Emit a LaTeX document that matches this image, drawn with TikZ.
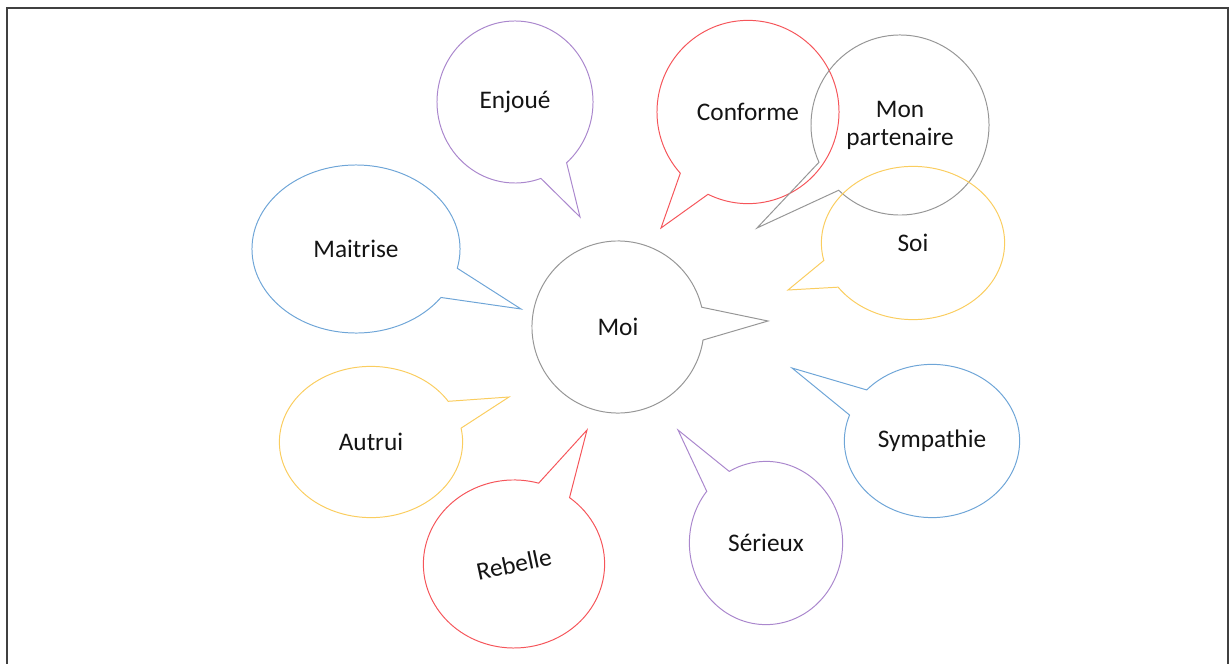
\documentclass[tikz,border=0pt]{standalone}
\usepackage{fontspec}
\setmainfont{Carlito}
\usepackage{xcolor}
\usetikzlibrary{shapes.callouts}

\definecolor{bPurple}{RGB}{170,135,205}
\definecolor{bRed}{RGB}{245,85,90}
\definecolor{bGrey}{RGB}{150,150,150}
\definecolor{bYellow}{RGB}{250,205,95}
\definecolor{bBlue}{RGB}{110,165,215}
\definecolor{bText}{RGB}{20,20,20}

\begin{document}
\begin{tikzpicture}[x=0.025cm, y=-0.025cm,
    bubble/.style={ellipse callout, draw, line width=0.7pt, inner sep=0pt,
        callout pointer arc=22, text=bText, align=center,
        font=\fontsize{18}{20}\selectfont}]
    \useasboundingbox (0,0) rectangle (1231,664);
    \draw[line width=1.4pt, draw=black!75] (7,664) -- (7,8) -- (1228,8) -- (1228,664);

    \node[bubble, draw=bPurple, minimum width=3.9cm, minimum height=4.05cm,
        callout absolute pointer={(580,217)}] (enjoue) at (515,102) {Enjoué};
    \node[bubble, draw=bRed, minimum width=4.55cm, minimum height=4.58cm,
        callout absolute pointer={(661,228)}] (conforme) at (748,112) {Conforme};
    \node[bubble, draw=bGrey, minimum width=4.45cm, minimum height=4.5cm,
        callout absolute pointer={(757,228)}] (partenaire) at (900,125) {Mon\\partenaire};
    \node[bubble, draw=bYellow, minimum width=4.58cm, minimum height=3.83cm,
        callout absolute pointer={(788,290)}] (soi) at (913,243) {Soi};
    \node[bubble, draw=bGrey, minimum width=4.3cm, minimum height=4.3cm,
        callout absolute pointer={(768,321)}] (moi) at (618,327) {Moi};
    \node[bubble, draw=bBlue, minimum width=5.2cm, minimum height=4.2cm,
        callout absolute pointer={(521,309)}] (maitrise) at (356,249) {Maitrise};
    \node[bubble, draw=bYellow, minimum width=4.58cm, minimum height=3.78cm,
        callout absolute pointer={(509,397)}] (autrui) at (371,442) {Autrui};
    \node[bubble, draw=bRed, minimum width=4.53cm, minimum height=4.2cm,
        callout absolute pointer={(587,430)}] (rebelle) at (514,564) {\rotatebox{12}{Rebelle}};
    \node[bubble, draw=bPurple, minimum width=3.83cm, minimum height=4.08cm,
        callout absolute pointer={(678,430)}] (serieux) at (766,543) {Sérieux};
    \node[bubble, draw=bBlue, minimum width=4.38cm, minimum height=3.83cm,
        callout absolute pointer={(792,368)}] (sympathie) at (932,441) {Sympathie};
\end{tikzpicture}
\end{document}
